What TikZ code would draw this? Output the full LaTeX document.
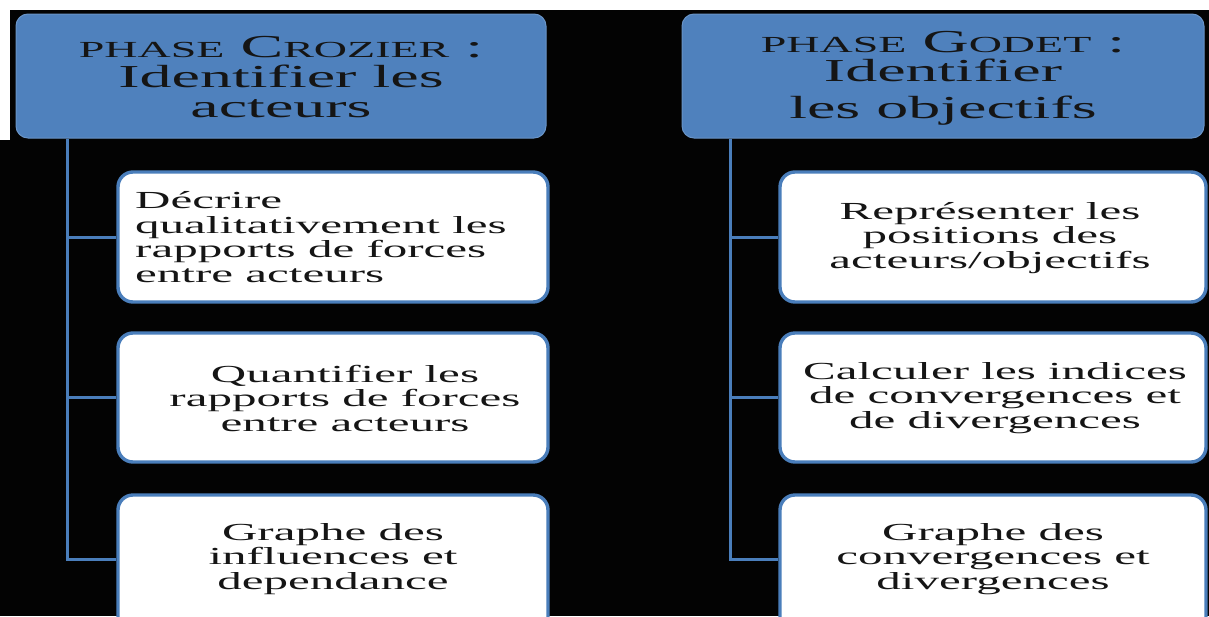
\documentclass[tikz,border=0pt]{standalone}
\usepackage{fontspec}
\setmainfont{Liberation Serif}[FakeStretch=2.0]
\definecolor{hdrblue}{HTML}{4F81BD}
\definecolor{edgeblue}{HTML}{4A7EBB}
\definecolor{ink}{HTML}{151515}
\definecolor{ground}{HTML}{030303}
\newcommand{\smc}[1]{{\fontsize{23}{23}\selectfont #1}}
\tikzset{
  header/.style={fill=hdrblue, draw=hdrblue!85!white, line width=1pt,
    rounded corners=12pt, inner sep=0pt},
  headtext/.style={text=ink, align=center, inner sep=0pt,
    font=\fontsize{32}{30}\selectfont},
  stepbox/.style={fill=white, draw=edgeblue, line width=3.4pt,
    rounded corners=15pt, inner sep=0pt, minimum width=430pt},
  boxtext/.style={text=ink, inner sep=0pt,
    font=\fontsize{24.5}{24.5}\selectfont},
  conn/.style={draw=edgeblue, line width=3pt}
}
\begin{document}
\begin{tikzpicture}[x=1pt, y=-1pt]
  \useasboundingbox (0,0) rectangle (1209,616);
  \clip (0,0) rectangle (1209,616);
  % page ground: dark sheet with a white margin at the top and upper left
  \fill[ground] (0,0) rectangle (1209,616);
  \fill[white] (0,0) rectangle (1209,10);
  \fill[white] (0,0) rectangle (10,140);

  % phase headers
  \node[header, minimum width=530pt, minimum height=124pt] (h1) at (281,76) {};
  \node[headtext] (h1t) at (281,77)
    {\smc{PHASE} C\smc{ROZIER} :\\ Identifier les\\ acteurs};
  \node[header, minimum width=522pt, minimum height=124pt] (h2) at (943,76) {};
  \node[headtext, font=\fontsize{32}{29}\selectfont] (h2t) at (943,78)
    {\smc{PHASE} G\smc{ODET} :\\ Identifier\\[8pt] les objectifs};

  % left column
  \node[stepbox, minimum height=130pt] (l1) at (333,237) {};
  \node[boxtext, align=left, anchor=west] (l1t) at (135,237)
    {Décrire\\ qualitativement les\\ rapports de forces\\ entre acteurs};
  \node[stepbox, minimum height=129pt] (l2) at (333,397.5) {};
  \node[boxtext, align=center] (l2t) at (345,398)
    {Quantifier les\\ rapports de forces\\ entre acteurs};
  \node[stepbox, minimum height=150pt] (l3) at (333,570) {};
  \node[boxtext, align=center] (l3t) at (333,559)
    {Graphe des\\ influences et\\ dependance};

  % right column
  \node[stepbox, minimum width=426pt, minimum height=130pt] (r1) at (993,237) {};
  \node[boxtext, align=center] (r1t) at (990,238)
    {Représenter les\\ positions des\\ acteurs/objectifs};
  \node[stepbox, minimum width=426pt, minimum height=129pt] (r2) at (993,397.5) {};
  \node[boxtext, align=center] (r2t) at (995,398)
    {Calculer les indices\\ de convergences et\\ de divergences};
  \node[stepbox, minimum width=426pt, minimum height=150pt] (r3) at (993,570) {};
  \node[boxtext, align=center] (r3t) at (993,559)
    {Graphe des\\ convergences et\\ divergences};

  % connectors
  \coordinate (lt) at (67,138);
  \coordinate (rt) at (730,138);
  \draw[conn] (lt |- h1.south) -- (lt |- l3t) -- (l3t -| l3.west);
  \draw[conn] (lt |- l1) -- (l1.west);
  \draw[conn] (lt |- l2) -- (l2.west);
  \draw[conn] (rt |- h2.south) -- (rt |- r3t) -- (r3t -| r3.west);
  \draw[conn] (rt |- r1) -- (r1.west);
  \draw[conn] (rt |- r2) -- (r2.west);
\end{tikzpicture}
\end{document}
